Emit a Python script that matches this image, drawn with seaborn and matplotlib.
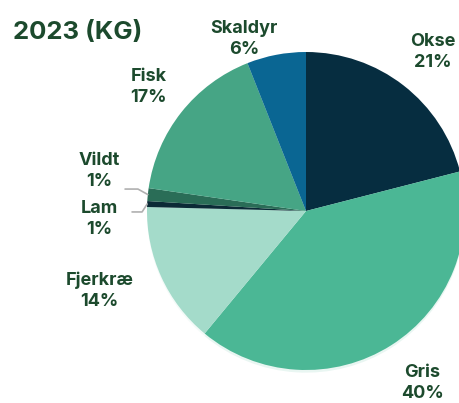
import numpy as np
import matplotlib.pyplot as plt
import seaborn as sns

# share of total, kg, 2023
categories = ["Okse", "Gris", "Fjerkræ", "Lam", "Vildt", "Fisk", "Skaldyr"]
shares = [21.0, 40.0, 14.4, 0.6, 1.3, 16.7, 6.0]
pct_labels = ["21%", "40%", "14%", "1%", "1%", "17%", "6%"]
colors = ["#062d40", "#4bb795", "#a4dbca", "#0b2a36", "#2a6d57", "#46a585", "#0a6693"]

# label placement (data coords, pie radius = 1)
label_xy = [(0.80, 1.00), (0.73, -1.08), (-1.30, -0.50), (-1.30, -0.05), (-1.30, 0.25),
            (-0.99, 0.78), (-0.39, 1.08)]
# leader lines for thin slices: (x start, x elbow, y)
leader = {"Lam": (-1.094, -1.031, -0.006), "Vildt": (-1.138, -1.057, 0.138)}

text_color = "#1c4a2d"

sns.set_theme(style="white")
plt.rcParams['font.family'] = ['Inter', 'DejaVu Sans']

fig = plt.figure(figsize=(4.59, 4.03), dpi=100)
ax = fig.add_axes([147 / 459, 33 / 403, 318 / 459, 318 / 403])

wedges, _ = ax.pie(shares, colors=colors, startangle=90, counterclock=False,
                   radius=1, wedgeprops=dict(linewidth=0),
                   shadow=dict(ox=0.0, oy=-0.012, shade=0.0, alpha=0.12))
ax.set_xlim(-1, 1)
ax.set_ylim(-1, 1)
ax.set_aspect("equal")
ax.axis("off")
for w in wedges:
    w.set_clip_on(False)

for cat, pct, (x, y) in zip(categories, pct_labels, label_xy):
    ax.text(x, y, f"{cat}\n{pct}", ha="center", va="center", fontsize=13,
            fontweight="bold", color=text_color, linespacing=1.3, clip_on=False)

for w, cat in zip(wedges, categories):
    if cat not in leader:
        continue
    mid = np.deg2rad((w.theta1 + w.theta2) / 2)
    x0, x1, ly = leader[cat]
    ax.plot([x0, x1, np.cos(mid)], [ly, ly, np.sin(mid)], color="#b0b0b0",
            lw=1.2, clip_on=False, solid_capstyle="round")

fig.text(13 / 459, 1 - 33 / 403, "2023 (KG)", fontsize=18.5, fontweight="bold",
         color=text_color, va="center", ha="left")

fig.savefig("out.png", dpi=100)
